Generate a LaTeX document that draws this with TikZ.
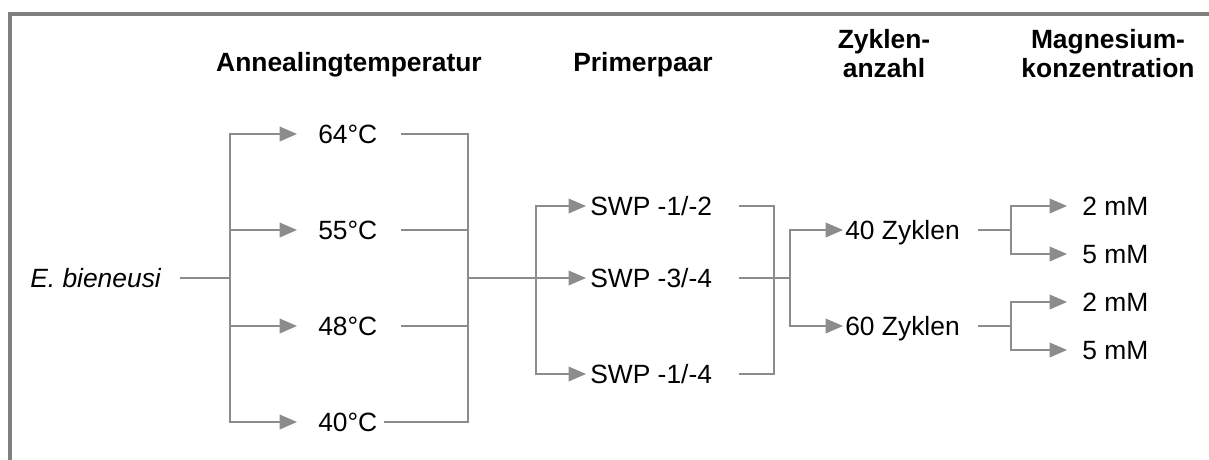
\documentclass[tikz,border=0pt]{standalone}
\usepackage{fontspec}
\setmainfont{Liberation Sans}
\usetikzlibrary{arrows.meta,calc}
\definecolor{linegray}{RGB}{140,140,140}
\definecolor{framegray}{RGB}{128,128,128}

\begin{document}
\begin{tikzpicture}[x=0.75pt, y=-0.75pt,
      every node/.style = {inner sep=0pt, font=\fontsize{19.8}{21.75}\selectfont},
      lbl/.style = {anchor=west, text height=14.2pt, text depth=0pt},
      hdr/.style = {anchor=base, align=center,
        font=\bfseries\fontsize{19.8}{21.75}\selectfont},
      link/.style = {draw=linegray, line width=1pt},
      arr/.style = {link, -{Triangle[length=13pt, width=11pt]}}]
  \useasboundingbox (0,0) rectangle (1209,460);
  \draw[framegray, line width=3pt] (10,460) -- (10,14) -- (1209,14);

  \node[hdr] (hanneal) at (349,72) {Annealingtemperatur};
  \node[hdr] (hprimer) at (643,72) {Primerpaar};
  \node[hdr] (hzyklen) at (884,78) {Zyklen-\\anzahl};
  \node[hdr] (hmagnes) at (1108,78) {Magnesium-\\konzentration};

  \node[lbl] (bien) at (30,278) {\itshape E. bieneusi};
  \node[lbl] (t64) at (318,134) {64°C};
  \node[lbl] (t55) at (318,230) {55°C};
  \node[lbl] (t48) at (318,326) {48°C};
  \node[lbl] (t40) at (318,422) {40°C};
  \node[lbl] (p12) at (590,206) {SWP -1/-2};
  \node[lbl] (p34) at (590,278) {SWP -3/-4};
  \node[lbl] (p14) at (590,374) {SWP -1/-4};
  \node[lbl] (z40) at (845,230) {40 Zyklen};
  \node[lbl] (z60) at (845,326) {60 Zyklen};
  \node[lbl] (m40a) at (1082,206) {2 mM};
  \node[lbl] (m40b) at (1082,254) {5 mM};
  \node[lbl] (m60a) at (1082,302) {2 mM};
  \node[lbl] (m60b) at (1082,350) {5 mM};

  % branch points
  \coordinate (stemp) at (230,278);
  \coordinate (jtemp) at (468,278);
  \coordinate (sprim) at (536,278);
  \coordinate (jprim) at (774,278);
  \coordinate (szykl) at (790,278);
  \coordinate (s40) at (1011,230);
  \coordinate (s60) at (1011,326);

  \draw[link] ($(bien.east)+(19,0)$) -- (stemp);
  \foreach \t in {t64,t55,t48,t40}
    \draw[arr] (stemp) |- ($(\t.west)+(-21,0)$);
  \foreach \t/\g in {t64/23,t55/23,t48/23,t40/6}
    \draw[link] ($(\t.east)+(\g,0)$) -| (jtemp);
  \draw[link] (jtemp) -- (sprim);

  \foreach \p in {p12,p34,p14}
    \draw[arr] (sprim) |- ($(\p.west)+(-4,0)$);
  \foreach \p in {p12,p34,p14}
    \draw[link] ($(\p.east)+(27,0)$) -| (jprim);
  \draw[link] (jprim) -- (szykl);

  \foreach \z in {z40,z60}
    \draw[arr] (szykl) |- ($(\z.west)+(-2,0)$);
  \draw[link] ($(z40.east)+(18,0)$) -- (s40);
  \draw[link] ($(z60.east)+(18,0)$) -- (s60);
  \foreach \m in {m40a,m40b}
    \draw[arr] (s40) |- ($(\m.west)+(-15,0)$);
  \foreach \m in {m60a,m60b}
    \draw[arr] (s60) |- ($(\m.west)+(-15,0)$);
\end{tikzpicture}
\end{document}
